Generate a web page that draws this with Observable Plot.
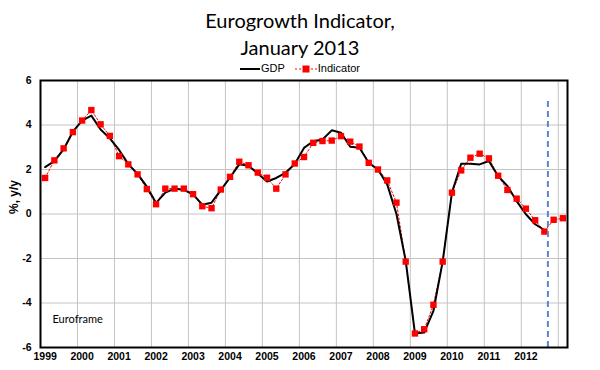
<!DOCTYPE html>
<html><head><meta charset="utf-8">
<script src="https://cdn.jsdelivr.net/npm/d3@7"></script>
<script src="https://cdn.jsdelivr.net/npm/@observablehq/plot@0.6"></script>
<style>
body{margin:0;background:#fff;width:600px;height:370px;overflow:hidden}
#header{position:relative;height:74px;}
.t{position:absolute;left:0;width:600px;text-align:center;font-family:Lato;font-size:20px;color:#000;line-height:20px}
#legend{position:absolute;top:62px;left:0;width:600px;text-align:center;font-family:"Liberation Sans";font-size:11px;line-height:13px}
#legend span{display:inline-flex;align-items:center;margin:0 5px}
#legend svg{margin-right:1px}
</style></head><body>
<div id="header">
<div class="t" style="top:10px">Eurogrowth Indicator,</div>
<div class="t" style="top:37px">January 2013</div>
<div id="legend"></div>
</div>
<div id="chart"></div>
<script>
const startYear = 1999;
const seriesNames = ["GDP", "Indicator"];
const indicator = [1.62,2.41,2.95,3.68,4.2,4.67,4.03,3.51,2.6,2.23,1.78,1.12,0.44,1.14,1.14,1.14,0.89,0.35,0.26,1.1,1.67,2.35,2.19,1.86,1.63,1.14,1.78,2.27,2.56,3.2,3.28,3.3,3.5,3.25,3.03,2.3,2.0,1.51,0.51,-2.14,-5.37,-5.18,-4.08,-2.14,0.96,1.96,2.53,2.71,2.5,1.72,1.08,0.69,0.24,-0.28,-0.79,-0.26,-0.19];
const gdp = [2.11,2.38,2.9,3.7,4.2,4.42,3.8,3.4,2.88,2.24,1.8,1.23,0.5,0.96,1.14,1.08,0.88,0.42,0.51,1.07,1.64,2.23,2.17,1.82,1.46,1.62,1.85,2.25,2.97,3.27,3.35,3.76,3.65,3.02,2.98,2.3,2.0,1.33,0.0,-2.1,-5.37,-5.33,-4.35,-2.14,0.96,2.26,2.26,2.23,2.38,1.7,1.26,0.58,-0.01,-0.46,-0.72];
const yearLabels = [1999,2000,2001,2002,2003,2004,2005,2006,2007,2008,2009,2010,2011,2012];
const yearGrid = [2000,2001,2002,2003,2004,2005,2006,2007,2008,2009,2010,2011,2012,2013];
const yTicks = [-6,-4,-2,0,2,4,6];
const yTitle = "%, y/y";
const forecastX = 2012.72;
const forecastTop = 5.15;
const note = "Euroframe";

const qx = i => startYear + (i + 0.5) / 4;
const indData = indicator.map((v, i) => ({x: qx(i), v}));
const gdpData = gdp.map((v, i) => ({x: qx(i), v}));

document.getElementById("legend").innerHTML =
  `<span><svg width="20" height="8"><line x1="0" x2="20" y1="4" y2="4" stroke="#000" stroke-width="2"/></svg>${seriesNames[0]}</span>` +
  `<span><svg width="22" height="8"><line x1="0" x2="22" y1="4" y2="4" stroke="#ff0000" stroke-width="1" stroke-dasharray="2,2"/><rect x="7.5" y="0.5" width="7" height="7" fill="#ff0000"/></svg>${seriesNames[1]}</span>`;

const chart = Plot.plot({
  width: 600, height: 296,
  marginTop: 6, marginLeft: 40, marginRight: 33, marginBottom: 23,
  style: {fontFamily: "Liberation Sans", fontSize: "10px", background: "#fff"},
  x: {domain: [1999, 2013.25]},
  y: {domain: [-6, 6]},
  marks: [
    Plot.ruleY(yTicks, {stroke: "#c4c4c4", strokeWidth: 1}),
    Plot.ruleX(yearGrid, {stroke: "#c4c4c4", strokeWidth: 1}),
    Plot.line(indData, {x: "x", y: "v", stroke: "#ff0000", strokeWidth: 1, strokeDasharray: "2,2"}),
    Plot.line(gdpData, {x: "x", y: "v", stroke: "#000", strokeWidth: 2}),
    Plot.dot(indData, {x: "x", y: "v", symbol: "square", r: 3.6, fill: "#ff0000", stroke: null}),
    Plot.ruleX([forecastX], {y1: -6, y2: forecastTop, stroke: "#5b87c8", strokeWidth: 2, strokeDasharray: "6,4"}),
    Plot.frame({stroke: "#000", strokeWidth: 2}),
    Plot.axisX(yearLabels.map(y => y + 0.125), {tickSize: 0, tickPadding: 5, tickFormat: d => String(Math.floor(d)), fontWeight: "bold", fontSize: 10.5, label: null}),
    Plot.axisY(yTicks, {tickSize: 0, tickPadding: 9, tickFormat: d => String(d), fontWeight: "bold", fontSize: 10.5, label: null}),
    Plot.text([yTitle], {frameAnchor: "left", dx: -26, rotate: -90, fontWeight: "bold", fontSize: 12, fill: "#000"}),
    Plot.text([note], {frameAnchor: "bottom-left", dx: 12, dy: -25, textAnchor: "start", fontFamily: "Lato", fontSize: 11, fill: "#000"})
  ]
});
document.getElementById("chart").appendChild(chart);
</script>
</body></html>
